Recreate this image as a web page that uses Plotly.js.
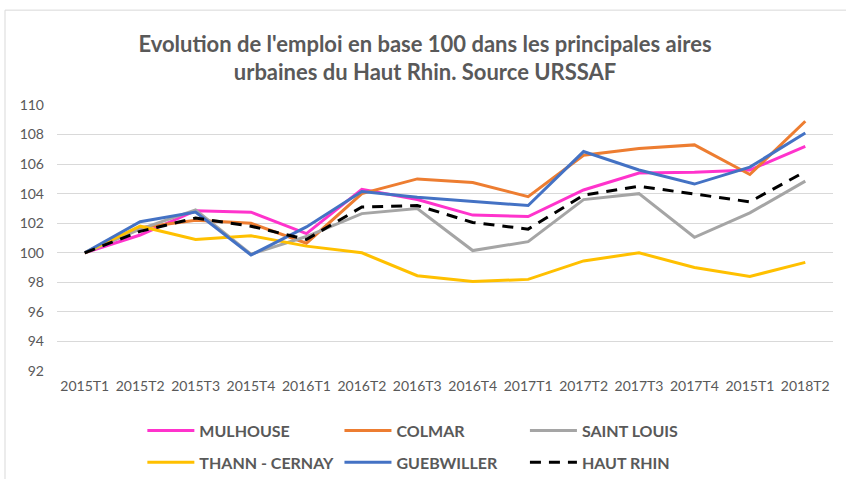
<!DOCTYPE html>
<html>
<head>
<meta charset="utf-8">
<script src="https://cdn.plot.ly/plotly-3.0.1.min.js"></script>
<style>
html,body{margin:0;padding:0;background:#fff;}
#chart{width:846px;height:479px;}
</style>
</head>
<body>
<div id="chart"></div>
<script>
const periods = ["2015T1","2015T2","2015T3","2015T4","2016T1","2016T2","2016T3","2016T4","2017T1","2017T2","2017T3","2017T4","2015T1","2018T2"];
const mulhouse   = [100, 101.2, 102.85, 102.75, 101.3, 104.3, 103.6, 102.55, 102.45, 104.25, 105.4, 105.45, 105.6, 107.2];
const colmar     = [100, 101.7, 102.2, 102.0, 100.65, 104.0, 105.0, 104.75, 103.8, 106.6, 107.05, 107.3, 105.3, 108.9];
const saintLouis = [100, 101.6, 102.9, 99.9, 101.1, 102.65, 103.0, 100.15, 100.75, 103.6, 104.0, 101.05, 102.7, 104.85];
const thann      = [100, 101.8, 100.9, 101.15, 100.45, 100.0, 98.45, 98.05, 98.2, 99.45, 100.0, 99.0, 98.4, 99.35];
const guebwiller = [100, 102.1, 102.75, 99.85, 101.75, 104.15, 103.75, 103.45, 103.2, 106.85, 105.6, 104.65, 105.8, 108.1];
const hautRhin   = [100, 101.45, 102.35, 101.8, 100.9, 103.1, 103.2, 102.05, 101.6, 103.9, 104.5, 104.0, 103.45, 105.5];
const yTicks = [92, 94, 96, 98, 100, 102, 104, 106, 108, 110];

const xIdx = periods.map((_, i) => i);
function tr(name, y, color, legend, dash) {
  return {
    type: 'scatter', mode: 'lines', name: name, x: xIdx, y: y,
    line: {color: color, width: 3, dash: dash || 'solid'},
    legend: legend, legendgroup: name, hoverinfo: 'skip'
  };
}
const data = [
  tr('MULHOUSE', mulhouse, '#FF33CC', 'legend'),
  tr('COLMAR', colmar, '#ED7D31', 'legend2'),
  tr('SAINT LOUIS', saintLouis, '#A5A5A5', 'legend3'),
  tr('THANN - CERNAY', thann, '#FFC000', 'legend'),
  tr('GUEBWILLER', guebwiller, '#4472C4', 'legend2'),
  tr('HAUT RHIN', hautRhin, '#000000', 'legend3', '11px,8px')
];
const legFont = {family: 'Lato, "Open Sans", sans-serif', size: 16, color: '#595959', weight: 700};
function leg(x) {
  return {x: x, y: -0.16, xanchor: 'left', yanchor: 'top', orientation: 'v',
    font: legFont, bgcolor: 'rgba(0,0,0,0)', borderwidth: 0, tracegroupgap: 8, itemwidth: 47};
}
const layout = {
  width: 846, height: 479,
  margin: {l: 57, r: 13, t: 105, b: 108, pad: 0, autoexpand: false},
  paper_bgcolor: '#ffffff', plot_bgcolor: '#ffffff',
  title: {
    text: "Evolution de l'emploi en base 100 dans les principales aires<br>urbaines du Haut Rhin. Source URSSAF",
    font: {family: 'Lato, "Open Sans", sans-serif', size: 22, color: '#595959', weight: 700},
    x: 0.5024, xanchor: 'center', xref: 'container', y: 0.892, yref: 'container', yanchor: 'middle'
  },
  xaxis: {
    range: [-0.5, 13.5], tickvals: xIdx, ticktext: periods, showgrid: false, zeroline: false,
    showline: false, ticks: '', tickfont: {family: 'Lato, sans-serif', size: 14, color: '#595959'},
    ticklabelstandoff: 5, fixedrange: true
  },
  yaxis: {
    range: [92, 110], tickvals: yTicks, showgrid: true, gridcolor: '#d9d9d9', gridwidth: 1,
    zeroline: false, showline: false, ticks: '',
    tickfont: {family: 'Lato, sans-serif', size: 14, color: '#595959'},
    ticklabelstandoff: 12, fixedrange: true
  },
  legend: leg(0.11),
  legend2: leg(0.364),
  legend3: leg(0.603),
  shapes: [{
    type: 'rect', xref: 'paper', yref: 'paper', x0: -0.067, x1: 1.05, y0: -0.5, y1: 1.3566,
    line: {color: '#d9d9d9', width: 1}, fillcolor: 'rgba(0,0,0,0)', layer: 'below'
  }],
  showlegend: true
};
Plotly.newPlot('chart', data, layout, {displayModeBar: false, staticPlot: true});
</script>
</body>
</html>
